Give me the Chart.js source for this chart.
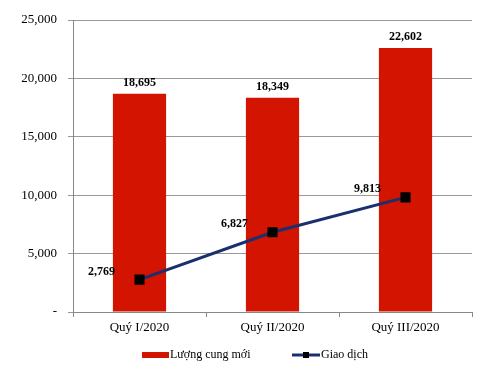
<!DOCTYPE html>
<html>
<head>
<meta charset="utf-8">
<script src="https://cdn.jsdelivr.net/npm/chart.js@4/dist/chart.umd.min.js"></script>
<style>
  html, body { margin:0; padding:0; background:#fff; }
  #wrap { width:480px; height:374px; position:relative; }
</style>
</head>
<body>
<div id="wrap"><canvas id="chart"></canvas></div>
<script>
const quarters = ['Quý I/2020', 'Quý II/2020', 'Quý III/2020'];
const supplyVals = [18695, 18349, 22602];
const dealVals = [2769, 6827, 9813];
const yTicks = [0, 5000, 10000, 15000, 20000, 25000];

const FONT = '"Liberation Serif", "Times New Roman", serif';
const RED = '#d21400';
const NAVY = '#1b2f6e';
const fmt = v => v === 0 ? '-' : v.toLocaleString('en-US');

// value labels + legend drawn by hand
const labelPlugin = {
  id: 'labels',
  afterDatasetsDraw(chart) {
    const ctx = chart.ctx;
    ctx.save();
    ctx.fillStyle = '#000';
    ctx.font = 'bold 12px ' + FONT;
    ctx.textAlign = 'center';
    ctx.textBaseline = 'bottom';
    chart.getDatasetMeta(0).data.forEach((bar, i) => {
      ctx.fillText(fmt(supplyVals[i]), bar.x, bar.y - 5);
    });
    ctx.textBaseline = 'middle';
    chart.getDatasetMeta(1).data.forEach((pt, i) => {
      ctx.fillText(fmt(dealVals[i]), pt.x - 38, pt.y - 8);
    });

    // legend
    const ly = 355;
    ctx.fillStyle = RED;
    ctx.fillRect(142, ly - 3, 27, 6);
    ctx.fillStyle = '#000';
    ctx.font = '12px ' + FONT;
    ctx.textAlign = 'left';
    ctx.fillText('Lượng cung mới', 170, ly);
    ctx.strokeStyle = NAVY;
    ctx.lineWidth = 3;
    ctx.beginPath();
    ctx.moveTo(292, ly);
    ctx.lineTo(320, ly);
    ctx.stroke();
    ctx.fillStyle = '#000';
    ctx.fillRect(303, ly - 3, 6, 6);
    ctx.fillText('Giao dịch', 321, ly);
    ctx.restore();
  }
};

new Chart(document.getElementById('chart'), {
  data: {
    labels: quarters,
    datasets: [
      { type: 'bar', label: 'Lượng cung mới', data: supplyVals, backgroundColor: RED,
        categoryPercentage: 1, barPercentage: 0.4, order: 2 },
      { type: 'line', label: 'Giao dịch', data: dealVals, borderColor: NAVY, borderWidth: 3,
        pointStyle: 'rect', pointRadius: 5, pointBackgroundColor: '#000', pointBorderColor: '#000',
        order: 1 }
    ]
  },
  options: {
    responsive: true, maintainAspectRatio: false, animation: false,
    layout: { padding: { top: 20, right: 3, bottom: 32, left: 0 } },
    plugins: { legend: { display: false }, tooltip: { enabled: false } },
    scales: {
      x: {
        grid: { display: true, offset: true, drawOnChartArea: false, color: '#888', tickLength: 5 },
        border: { color: '#888' },
        ticks: { color: '#000', font: { family: FONT, size: 13 }, padding: 3 },
        afterFit: s => { s.height = 30; }
      },
      y: {
        min: 0, max: 25000,
        afterBuildTicks: s => { s.ticks = yTicks.map(v => ({ value: v })); },
        grid: { color: '#999', tickLength: 5 },
        border: { color: '#888' },
        ticks: { color: '#000', font: { family: FONT, size: 13 }, padding: 11, callback: v => fmt(v) },
        afterFit: s => { s.width = 73; }
      }
    }
  },
  plugins: [labelPlugin]
});
</script>
</body>
</html>
